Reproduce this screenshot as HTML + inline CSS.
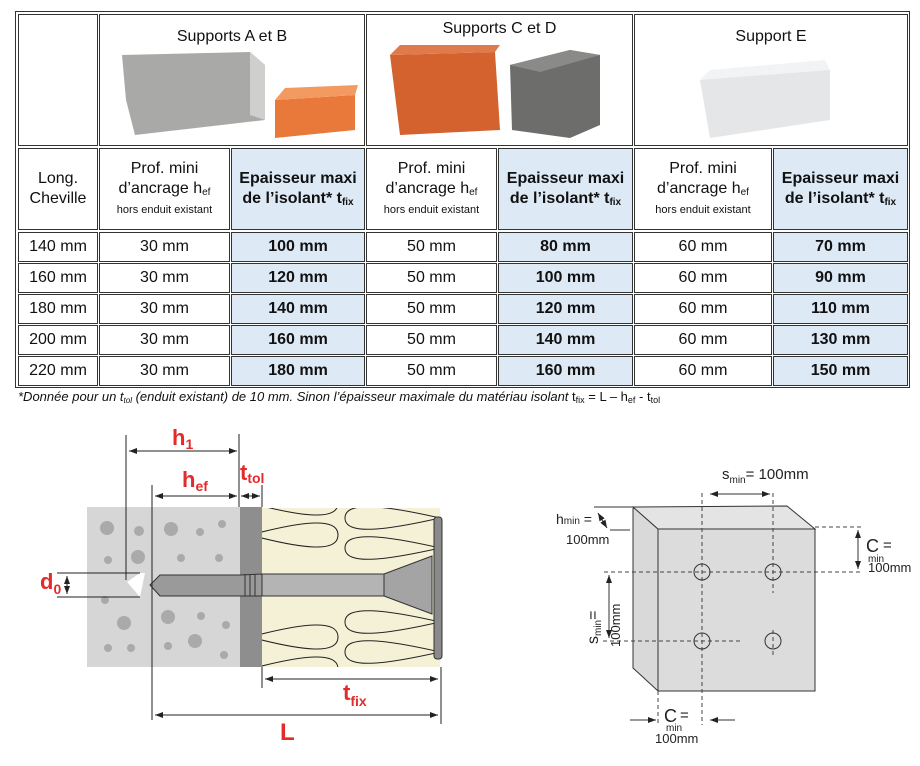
<!DOCTYPE html>
<html><head><meta charset="utf-8"><style>
body{margin:0;width:920px;height:766px;background:#fff;position:relative;overflow:hidden;font-family:"Liberation Sans Narrow","Liberation Sans",sans-serif;color:#111}
.c{position:absolute;border:1px solid #333;box-sizing:border-box;display:flex;align-items:center;justify-content:center;text-align:center;font-size:16px;line-height:1.25}
.c>span{display:block}
.b{background:#dee9f6;font-weight:bold}
.ot{position:absolute;left:15px;top:11px;width:895px;height:377px;border:1px solid #333;box-sizing:border-box}
sub{font-size:10px;vertical-align:-2px;line-height:0}
small{font-size:11px}
.red{fill:#e32b2b;font-family:"Liberation Sans",sans-serif;font-weight:bold}
</style></head><body>
<div class="ot"></div>
<div class="c" style="left:18px;top:14px;width:80px;height:132px"></div>
<div class="c" style="left:99px;top:14px;width:266px;height:132px;align-items:flex-start;padding-top:12px"><span>Supports A et B</span></div>
<div class="c" style="left:366px;top:14px;width:267px;height:132px;align-items:flex-start;padding-top:4px"><span>Supports C et D</span></div>
<div class="c" style="left:634px;top:14px;width:274px;height:132px;align-items:flex-start;padding-top:12px"><span>Support E</span></div>
<svg style="position:absolute;left:100px;top:40px" width="806" height="100">
 <polygon points="22,15 150,12 165,25 165,80 35,95 26,60" fill="#a9a9a7"/>
 <polygon points="150,12 165,25 165,80 150,75" fill="#cfcfcd"/>
 <polygon points="175,60 255,55 255,90 175,98" fill="#e8793a"/><polygon points="175,60 185,48 258,45 255,55" fill="#f29a60"/>
 <polygon points="290,15 395,12 400,90 300,95" fill="#d4622f"/><polygon points="290,15 300,5 400,5 395,12" fill="#e07a4a"/>
 <polygon points="410,25 470,10 500,15 500,85 470,98 412,90" fill="#6d6d6b"/><polygon points="410,25 470,10 500,15 440,32" fill="#8a8a88"/>
 <polygon points="600,40 720,25 730,30 730,80 610,98" fill="#e5e6e8"/><polygon points="600,40 610,30 725,20 730,30" fill="#f2f3f4"/>
</svg>
<div class="c" style="left:18px;top:148px;width:80px;height:82px"><span>Long.<br>Cheville</span></div>
<div class="c" style="left:99px;top:148px;width:131px;height:82px"><span>Prof. mini<br>d’ancrage h<sub>ef</sub><br><small>hors enduit existant</small></span></div>
<div class="c b" style="left:231px;top:148px;width:134px;height:82px"><span>Epaisseur maxi<br>de l’isolant* t<sub>fix</sub></span></div>
<div class="c" style="left:366px;top:148px;width:131px;height:82px"><span>Prof. mini<br>d’ancrage h<sub>ef</sub><br><small>hors enduit existant</small></span></div>
<div class="c b" style="left:498px;top:148px;width:135px;height:82px"><span>Epaisseur maxi<br>de l’isolant* t<sub>fix</sub></span></div>
<div class="c" style="left:634px;top:148px;width:138px;height:82px"><span>Prof. mini<br>d’ancrage h<sub>ef</sub><br><small>hors enduit existant</small></span></div>
<div class="c b" style="left:773px;top:148px;width:135px;height:82px"><span>Epaisseur maxi<br>de l’isolant* t<sub>fix</sub></span></div>
<div id="rows"></div>
<script>
var d=[["140","100","80","70"],["160","120","100","90"],["180","140","120","110"],["200","160","140","130"],["220","180","160","150"]];
var X=[[18,80],[99,131],[231,134],[366,131],[498,135],[634,138],[773,135]];
var h='';
d.forEach(function(r,i){var y=232+i*31;
var v=[r[0]+" mm","30 mm",r[1]+" mm","50 mm",r[2]+" mm","60 mm",r[3]+" mm"];
v.forEach(function(t,j){h+='<div class="c'+(j==2||j==4||j==6?' b':'')+'" style="left:'+X[j][0]+'px;top:'+y+'px;width:'+X[j][1]+'px;height:30px"><span>'+t+'</span></div>';});});
document.getElementById('rows').innerHTML=h;
</script>
<div style="position:absolute;left:18px;top:389px;font-size:13px;font-style:italic;white-space:nowrap">*Donnée pour un t<sub style="font-size:8px">tol</sub> (enduit existant) de 10 mm. Sinon l’épaisseur maximale du matériau isolant <span style="font-style:normal">t<sub style="font-size:9px">fix</sub> = L – h<sub style="font-size:9px">ef</sub> - t<sub style="font-size:9px">tol</sub></span></div>

<svg style="position:absolute;left:0;top:0" width="920" height="766">
<defs><marker id="a" markerWidth="8" markerHeight="6" refX="8" refY="3" orient="auto-start-reverse"><path d="M0,0L8,3L0,6z" fill="#222"/></marker>
<clipPath id="ins"><rect x="262" y="508" width="178" height="159"/></clipPath></defs>
<rect x="87" y="507" width="153" height="160" fill="#d6d6d6"/>
<g fill="#aaa"><circle cx="107" cy="528" r="7"/><circle cx="139" cy="531" r="5"/><circle cx="171" cy="529" r="7"/><circle cx="200" cy="532" r="4"/><circle cx="222" cy="524" r="4"/><circle cx="108" cy="560" r="4"/><circle cx="138" cy="557" r="7"/><circle cx="181" cy="558" r="4"/><circle cx="219" cy="558" r="4"/><circle cx="105" cy="600" r="4"/><circle cx="168" cy="617" r="7"/><circle cx="201" cy="616" r="4"/><circle cx="124" cy="623" r="7"/><circle cx="226" cy="625" r="4"/><circle cx="108" cy="648" r="4"/><circle cx="131" cy="648" r="4"/><circle cx="168" cy="646" r="4"/><circle cx="195" cy="641" r="7"/><circle cx="224" cy="655" r="4"/></g>
<rect x="240" y="507" width="22" height="160" fill="#8e8e8e"/>
<rect x="262" y="508" width="178" height="159" fill="#f4f1d6"/>
<g fill="none" stroke="#222" stroke-width="1" clip-path="url(#ins)">
<path d="M250,503 C303,489 338,485 338,503 C338,521 303,517 250,503Z"/>
<path d="M250,535 C303,521 338,517 338,535 C338,553 303,549 250,535Z"/>
<path d="M250,637 C303,623 338,619 338,637 C338,655 303,651 250,637Z"/>
<path d="M250,669 C303,655 338,651 338,669 C338,687 303,683 250,669Z"/>
<path d="M440,488 C383,475 345,471 345,488 C345,505 383,501 440,488Z"/>
<path d="M440,518 C383,505 345,501 345,518 C345,535 383,531 440,518Z"/>
<path d="M440,548 C383,535 345,531 345,548 C345,565 383,561 440,548Z"/>
<path d="M440,622 C383,609 345,605 345,622 C345,639 383,635 440,622Z"/>
<path d="M440,652 C383,639 345,635 345,652 C345,669 383,665 440,652Z"/>
<path d="M440,682 C383,669 345,665 345,682 C345,699 383,695 440,682Z"/>
</g>
<rect x="262" y="574" width="122" height="22" fill="#b4b4b4" stroke="#333"/>
<path d="M384,574 L432,556 L432,614 L384,596z" fill="#a4a4a4" stroke="#333"/>
<rect x="434" y="517" width="8" height="142" rx="3" fill="#8a8a8a" stroke="#333"/>
<path d="M150,585 L160,575 L240,575 L262,574 L262,596 L240,596 L160,596z" fill="#9a9a9a" stroke="#333"/>
<g stroke="#333"><line x1="245" y1="574" x2="245" y2="596"/><line x1="250" y1="574" x2="250" y2="596"/><line x1="255" y1="574" x2="255" y2="596"/></g>
<path d="M127,582 L140,573 L145,573 L140,597 z" fill="#fff"/>
<g stroke="#222" stroke-width="1" fill="none">
<line x1="126" y1="435" x2="126" y2="580"/><line x1="239" y1="434" x2="239" y2="507"/>
<line x1="129" y1="451" x2="237" y2="451" marker-start="url(#a)" marker-end="url(#a)"/>
<line x1="152" y1="485" x2="152" y2="720"/>
<line x1="155" y1="496" x2="237" y2="496" marker-start="url(#a)" marker-end="url(#a)"/>
<line x1="241" y1="496" x2="260" y2="496" marker-start="url(#a)" marker-end="url(#a)"/>
<line x1="262" y1="485" x2="262" y2="507"/><line x1="262" y1="667" x2="262" y2="688"/>
<line x1="441" y1="667" x2="441" y2="724"/>
<line x1="265" y1="679" x2="438" y2="679" marker-start="url(#a)" marker-end="url(#a)"/>
<line x1="155" y1="715" x2="438" y2="715" marker-start="url(#a)" marker-end="url(#a)"/>
<line x1="57" y1="573" x2="140" y2="573"/><line x1="57" y1="597" x2="140" y2="597"/>
<line x1="67" y1="576" x2="67" y2="594" marker-start="url(#a)" marker-end="url(#a)"/>
</g>
<text class="red" x="172" y="445" font-size="22">h<tspan font-size="14" dy="4">1</tspan></text>
<text class="red" x="182" y="487" font-size="22">h<tspan font-size="14" dy="4">ef</tspan></text>
<text class="red" x="240" y="480" font-size="22">t<tspan font-size="14" dy="3">tol</tspan></text>
<text class="red" x="40" y="589" font-size="22">d<tspan font-size="14" dy="5">0</tspan></text>
<text class="red" x="343" y="700" font-size="22">t<tspan font-size="14" dy="6">fix</tspan></text>
<text class="red" x="280" y="740" font-size="24">L</text>
<polygon points="633,507 658,529 658,691 633,668" fill="#d9d9d9" stroke="#333"/>
<polygon points="633,507 787,506 815,529 658,529" fill="#e4e4e4" stroke="#333"/>
<rect x="658" y="529" width="157" height="162" fill="#dcdcdc" stroke="#333"/>
<g stroke="#444" stroke-dasharray="4,3" fill="none">
<line x1="702" y1="493" x2="702" y2="725"/><line x1="773" y1="493" x2="773" y2="593"/><line x1="773" y1="630" x2="773" y2="655"/>
<line x1="604" y1="572" x2="862" y2="572"/><line x1="603" y1="641" x2="740" y2="641"/>
<line x1="815" y1="527" x2="862" y2="527"/><line x1="658" y1="691" x2="658" y2="725"/>
</g>
<g stroke="#333" fill="none"><circle cx="702" cy="572" r="8"/><circle cx="773" cy="572" r="8"/><circle cx="702" cy="641" r="8"/><circle cx="773" cy="641" r="8"/>
<line x1="710" y1="494" x2="770" y2="494" marker-start="url(#a)" marker-end="url(#a)"/>
<line x1="858" y1="530" x2="858" y2="569" marker-start="url(#a)" marker-end="url(#a)"/>
<line x1="609" y1="575" x2="609" y2="638" marker-start="url(#a)" marker-end="url(#a)"/>
<line x1="630" y1="720" x2="656" y2="720" marker-end="url(#a)"/><line x1="735" y1="720" x2="710" y2="720" marker-end="url(#a)"/>
<line x1="594" y1="507" x2="632" y2="507"/><line x1="610" y1="530" x2="630" y2="530"/>
<line x1="598" y1="513" x2="607" y2="528" marker-start="url(#a)" marker-end="url(#a)"/>
</g>
<g font-family="Liberation Sans,sans-serif" fill="#222" font-size="13">
<text x="722" y="479" font-size="15">s<tspan font-size="10" dy="4">min</tspan><tspan dy="-4">= 100mm</tspan></text>
<text x="556" y="524" font-size="14">h<tspan font-size="10">min</tspan> =</text>
<text x="566" y="544">100mm</text>
<text x="866" y="552" font-size="18">C</text><text x="868" y="562" font-size="10">min</text><text x="883" y="550" font-size="15">=</text>
<text x="868" y="572">100mm</text>
<text x="664" y="722" font-size="18">C</text><text x="666" y="731" font-size="10">min</text><text x="680" y="720" font-size="15">=</text>
<text x="655" y="743">100mm</text>
<g transform="translate(598,622) rotate(-90)"><text x="-22" y="0" font-size="16">s<tspan font-size="10" dy="3">min</tspan><tspan dy="-3">=</tspan></text></g>
<g transform="translate(620,625) rotate(-90)"><text x="-22" y="0" font-size="13">100mm</text></g>
</g>
</svg>
</body></html>
